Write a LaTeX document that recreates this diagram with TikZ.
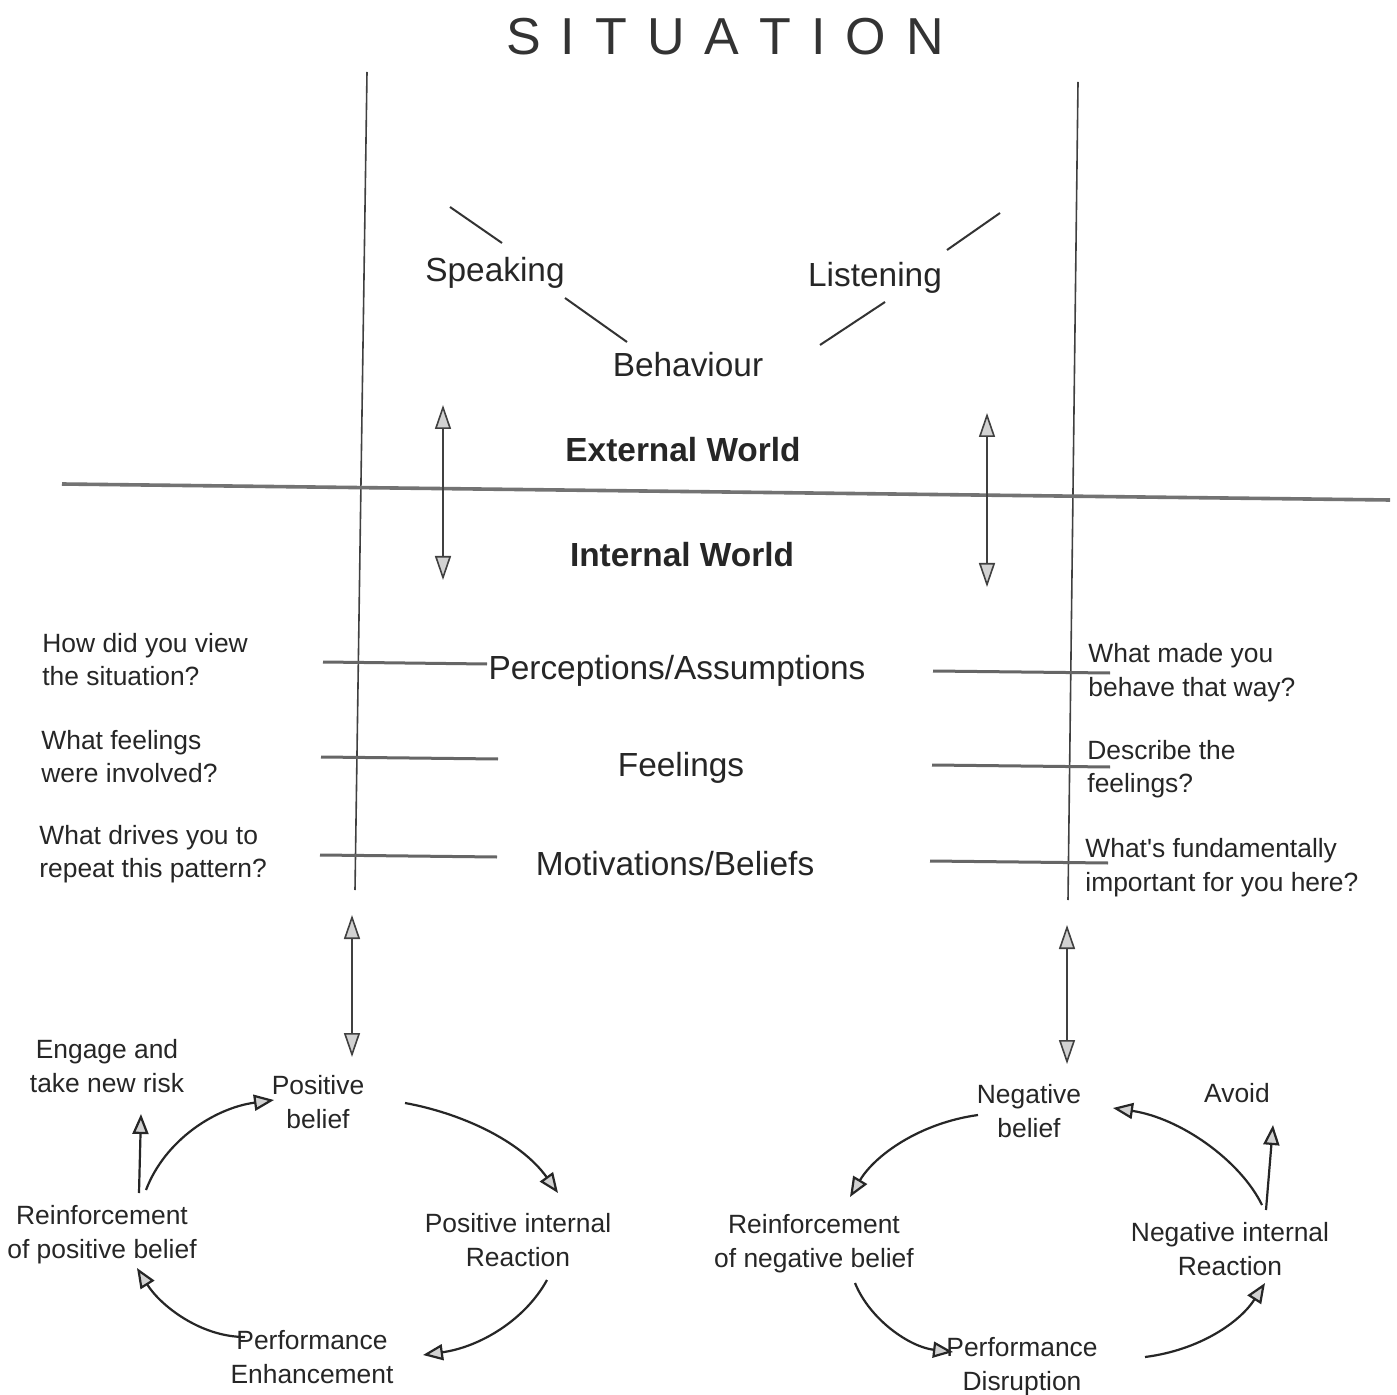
\documentclass[tikz,border=0pt]{standalone}
\usepackage{fontspec}
\setmainfont{Liberation Sans}
\usetikzlibrary{arrows.meta}
\begin{document}
\begin{tikzpicture}[x=0.5pt,y=-0.5pt,
  txt/.style={font=\fontsize{13.2}{17}\selectfont, align=center, text=black!85, inner sep=0},
  qtxt/.style={font=\fontsize{13.2}{16.8}\selectfont, align=left, anchor=west, text=black!85, inner sep=0},
  big/.style={font=\fontsize{16.7}{20}\selectfont, text=black!85, inner sep=0},
  bigb/.style={font=\bfseries\fontsize{16.7}{20}\selectfont, text=black!85, inner sep=0},
  vline/.style={draw=black!75, line width=0.8pt},
  wline/.style={draw=black!55, line width=1.8pt},
  lvl/.style={draw=black!60, line width=1.5pt},
  tick/.style={draw=black!80, line width=1pt},
  darr/.style={draw=black!75, line width=0.8pt, {Triangle[length=12pt,width=8pt,fill=gray!35]}-{Triangle[length=12pt,width=8pt,fill=gray!35]}},
  carr/.style={draw=black!85, line width=1.1pt, -{Triangle[length=10pt,width=8pt,fill=gray!35]}},
]
\fill[white] (0,0) rectangle (1397,1395);
\useasboundingbox (0,0) rectangle (1397,1395);

% title
\node[font=\fontsize{26}{30}\selectfont, text=black!80, inner sep=0] (title) at (725,37)
  {S\kern10pt I\kern10pt T\kern10pt U\kern10pt A\kern10pt T\kern10pt I\kern10pt O\kern10pt N};

% main frame lines
\coordinate (LT) at (367,72);  \coordinate (LB) at (355,890);
\coordinate (RT) at (1078,82); \coordinate (RB) at (1068,900);
\coordinate (WL) at (62,484);  \coordinate (WR) at (1390,500);
\draw[vline] (LT) -- (LB);
\draw[vline] (RT) -- (RB);
\draw[wline] (WL) -- (WR);

% behaviour
\node[big] (sp) at (495,273) {Speaking};
\node[big] (li) at (875,278) {Listening};
\node[big] (beh) at (688,365) {Behaviour};
\coordinate (t1a) at (450,207); \coordinate (t1b) at (502,243);
\coordinate (t2a) at (1000,213); \coordinate (t2b) at (947,250);
\coordinate (t3a) at (565,298); \coordinate (t3b) at (627,342);
\coordinate (t4a) at (885,302); \coordinate (t4b) at (820,345);
\draw[tick] (t1a) -- (t1b);
\draw[tick] (t2a) -- (t2b);
\draw[tick] (t3a) -- (t3b);
\draw[tick] (t4a) -- (t4b);

% worlds
\node[bigb] (ext) at (683,450) {External World};
\node[bigb] (int) at (682,555) {Internal World};
\coordinate (da1) at (443,405); \coordinate (da2) at (443,580);
\coordinate (db1) at (987,413); \coordinate (db2) at (987,587);
\draw[darr] (da1) -- (da2);
\draw[darr] (db1) -- (db2);

% levels
\node[big] (per) at (677,671) {Perceptions/Assumptions};
\node[big] (fee) at (681,768) {Feelings};
\node[big] (mot) at (675,864) {Motivations/Beliefs};
\coordinate (p1) at (323,662); \coordinate (p2) at (487,664);
\coordinate (p3) at (933,671); \coordinate (p4) at (1110,673);
\coordinate (f1) at (321,757); \coordinate (f2) at (498,759);
\coordinate (f3) at (932,765); \coordinate (f4) at (1110,767);
\coordinate (m1) at (320,855); \coordinate (m2) at (497,857);
\coordinate (m3) at (930,861); \coordinate (m4) at (1108,863);
\draw[lvl] (p1) -- (p2); \draw[lvl] (p3) -- (p4);
\draw[lvl] (f1) -- (f2); \draw[lvl] (f3) -- (f4);
\draw[lvl] (m1) -- (m2); \draw[lvl] (m3) -- (m4);

% questions
\node[qtxt] (q1) at (42,659.5) {How did you view\\the situation?};
\node[qtxt] (q2) at (41,756.5) {What feelings\\were involved?};
\node[qtxt] (q3) at (39,854) {What drives you to\\repeat this pattern?};
\node[qtxt] (q4) at (1088,672.5) {What made you\\behave that way?};
\node[qtxt] (q5) at (1087,769) {Describe the\\feelings?};
\node[qtxt] (q6) at (1085,867.5) {What\textquotesingle s fundamentally\\important for you here?};

% lower double arrows
\coordinate (dc1) at (352,915); \coordinate (dc2) at (352,1057);
\coordinate (dd1) at (1067,925); \coordinate (dd2) at (1067,1064);
\draw[darr] (dc1) -- (dc2);
\draw[darr] (dd1) -- (dd2);

% left cycle
\node[txt] (eng) at (107,1066.5) {Engage and\\take new risk};
\node[txt] (pb) at (318,1102) {Positive\\belief};
\node[txt] (pir) at (518,1240) {Positive internal\\Reaction};
\node[txt] (pe) at (312,1357.5) {Performance\\Enhancement};
\node[txt] (rpb) at (102,1235) {Reinforcement\\of positive belief};

\coordinate (a1s) at (146,1190); \coordinate (a1e) at (274,1100);
\coordinate (a2s) at (139,1193); \coordinate (a2e) at (141,1114);
\coordinate (a3s) at (405,1103); \coordinate (a3e) at (558,1193);
\coordinate (a4s) at (547,1280); \coordinate (a4e) at (423,1355);
\coordinate (a5s) at (245,1337); \coordinate (a5e) at (137,1268);
\draw[carr] (a1s) .. controls (165,1140) and (215,1108) .. (a1e);
\draw[carr] (a2s) -- (a2e);
\draw[carr] (a3s) .. controls (460,1113) and (520,1140) .. (a3e);
\draw[carr] (a4s) .. controls (525,1320) and (480,1347) .. (a4e);
\draw[carr] (a5s) .. controls (200,1337) and (160,1305) .. (a5e);

% right cycle
\node[txt] (nb) at (1029,1111) {Negative\\belief};
\node[txt] (av) at (1237,1093) {Avoid};
\node[txt] (rnb) at (814,1243.5) {Reinforcement\\of negative belief};
\node[txt] (nir) at (1230,1249) {Negative internal\\Reaction};
\node[txt] (pd) at (1022,1367) {Performance\\Disruption};

\coordinate (b1s) at (978,1115); \coordinate (b1e) at (850,1197);
\coordinate (b2s) at (855,1283); \coordinate (b2e) at (953,1352);
\coordinate (b3s) at (1145,1357); \coordinate (b3e) at (1265,1283);
\coordinate (b4s) at (1262,1205); \coordinate (b4e) at (1113,1108);
\coordinate (b5s) at (1266,1210); \coordinate (b5e) at (1273,1125);
\draw[carr] (b1s) .. controls (920,1123) and (875,1155) .. (b1e);
\draw[carr] (b2s) .. controls (870,1320) and (910,1347) .. (b2e);
\draw[carr] (b3s) .. controls (1200,1350) and (1240,1322) .. (b3e);
\draw[carr] (b4s) .. controls (1240,1160) and (1180,1118) .. (b4e);
\draw[carr] (b5s) -- (b5e);
\end{tikzpicture}
\end{document}
